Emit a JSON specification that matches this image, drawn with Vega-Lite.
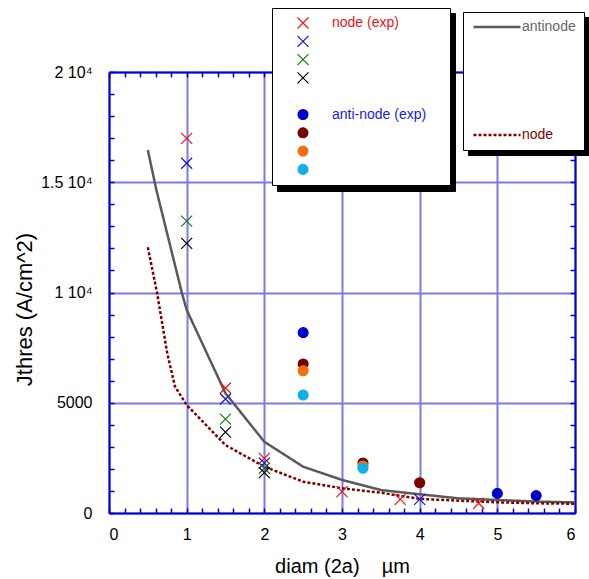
{
  "$schema": "https://vega.github.io/schema/vega-lite/v6.json",
  "width": 466,
  "height": 441,
  "autosize": {"type": "none"},
  "padding": {"left": 109, "top": 72, "right": 14, "bottom": 66},
  "background": "white",
  "config": {"font": "Liberation Sans", "view": {"stroke": null}},
  "datasets": {
    "curves": [
      {"diam": 0.5, "J": 16460, "curve": "antinode"},
      {"diam": 0.61, "J": 14650, "curve": "antinode"},
      {"diam": 0.94, "J": 9960, "curve": "antinode"},
      {"diam": 1.0, "J": 9210, "curve": "antinode"},
      {"diam": 1.5, "J": 5430, "curve": "antinode"},
      {"diam": 2.0, "J": 3230, "curve": "antinode"},
      {"diam": 2.5, "J": 2100, "curve": "antinode"},
      {"diam": 3.0, "J": 1500, "curve": "antinode"},
      {"diam": 3.5, "J": 1040, "curve": "antinode"},
      {"diam": 4.0, "J": 850, "curve": "antinode"},
      {"diam": 4.5, "J": 665, "curve": "antinode"},
      {"diam": 5.0, "J": 590, "curve": "antinode"},
      {"diam": 5.5, "J": 520, "curve": "antinode"},
      {"diam": 6.0, "J": 480, "curve": "antinode"},
      {"diam": 0.5, "J": 12050, "curve": "node"},
      {"diam": 0.62, "J": 9960, "curve": "node"},
      {"diam": 0.75, "J": 7240, "curve": "node"},
      {"diam": 0.85, "J": 5730, "curve": "node"},
      {"diam": 1.0, "J": 4900, "curve": "node"},
      {"diam": 1.5, "J": 3080, "curve": "node"},
      {"diam": 2.0, "J": 2100, "curve": "node"},
      {"diam": 2.5, "J": 1420, "curve": "node"},
      {"diam": 3.0, "J": 1120, "curve": "node"},
      {"diam": 3.5, "J": 920, "curve": "node"},
      {"diam": 4.0, "J": 640, "curve": "node"},
      {"diam": 4.5, "J": 560, "curve": "node"},
      {"diam": 5.0, "J": 485, "curve": "node"},
      {"diam": 5.5, "J": 440, "curve": "node"},
      {"diam": 6.0, "J": 420, "curve": "node"}
    ],
    "points": [
      {"diam": 1, "J": 16990, "series": "node (exp)"},
      {"diam": 1.5, "J": 5670, "series": "node (exp)"},
      {"diam": 2, "J": 2480, "series": "node (exp)"},
      {"diam": 3, "J": 970, "series": "node (exp)"},
      {"diam": 3.75, "J": 620, "series": "node (exp)"},
      {"diam": 4.76, "J": 440, "series": "node (exp)"},
      {"diam": 1, "J": 15860, "series": "n2"},
      {"diam": 1.5, "J": 5170, "series": "n2"},
      {"diam": 2, "J": 2260, "series": "n2"},
      {"diam": 4, "J": 620, "series": "n2"},
      {"diam": 1, "J": 13240, "series": "n3"},
      {"diam": 1.5, "J": 4260, "series": "n3"},
      {"diam": 2, "J": 2030, "series": "n3"},
      {"diam": 1, "J": 12230, "series": "n4"},
      {"diam": 1.5, "J": 3670, "series": "n4"},
      {"diam": 2, "J": 1830, "series": "n4"},
      {"diam": 2.5, "J": 8180, "series": "anti-node (exp)"},
      {"diam": 5.0, "J": 890, "series": "anti-node (exp)"},
      {"diam": 5.5, "J": 790, "series": "anti-node (exp)"},
      {"diam": 2.5, "J": 6760, "series": "a2"},
      {"diam": 3.27, "J": 2270, "series": "a2"},
      {"diam": 4.0, "J": 1370, "series": "a2"},
      {"diam": 2.5, "J": 6450, "series": "a3"},
      {"diam": 3.27, "J": 2130, "series": "a3"},
      {"diam": 2.5, "J": 5350, "series": "a4"},
      {"diam": 3.27, "J": 2030, "series": "a4"}
    ]
  },
  "layer": [
    {
      "data": {"name": "curves"},
      "mark": {"type": "line", "strokeCap": "butt"},
      "encoding": {
        "x": {
          "field": "diam", "type": "quantitative",
          "scale": {"domain": [0, 6], "nice": false, "zero": false},
          "axis": {
            "orient": "bottom",
            "values": [0,0.2,0.4,0.6,0.8,1,1.2,1.4,1.6,1.8,2,2.2,2.4,2.6,2.8,3,3.2,3.4,3.6,3.8,4,4.2,4.4,4.6,4.8,5,5.2,5.4,5.6,5.8,6],
            "labelExpr": "abs(datum.value - round(datum.value)) < 0.001 ? format(datum.value, 'd') : ''",
            "labelOverlap": false,
            "labelFontSize": 16,
            "labelColor": "black",
            "labelPadding": 18,
            "tickSize": -5,
            "tickWidth": 1.5,
            "tickColor": "#0000dd",
            "domainColor": "#0000dd",
            "domainWidth": 2,
            "grid": true,
            "gridColor": "#7b7bea",
            "gridWidth": 2,
            "gridOpacity": {"condition": {"test": "abs(datum.value - round(datum.value)) < 0.001", "value": 1}, "value": 0},
            "title": "diam (2a)\u00a0\u00a0\u00a0\u00a0µm",
            "titleFontSize": 20,
            "titleFontWeight": "normal",
            "titleColor": "black",
            "titlePadding": 14
          }
        },
        "y": {
          "field": "J", "type": "quantitative",
          "scale": {"domain": [0, 20000], "nice": false, "zero": true},
          "axis": {
            "orient": "left",
            "values": [0,1000,2000,3000,4000,5000,6000,7000,8000,9000,10000,11000,12000,13000,14000,15000,16000,17000,18000,19000,20000],
            "labelExpr": "datum.value === 20000 ? '2 10⁴' : datum.value === 15000 ? '1.5 10⁴' : datum.value === 10000 ? '1 10⁴' : datum.value === 5000 ? '5000' : datum.value === 0 ? '0' : ''",
            "labelOverlap": false,
            "labelFontSize": 16,
            "labelColor": "black",
            "labelPadding": 22,
            "tickSize": -5,
            "tickWidth": 1.5,
            "tickColor": "#0000dd",
            "domainColor": "#0000dd",
            "domainWidth": 2,
            "grid": true,
            "gridColor": "#7b7bea",
            "gridWidth": 2,
            "gridOpacity": {"condition": {"test": "datum.value % 5000 === 0", "value": 1}, "value": 0},
            "title": "Jthres (A/cm^2)",
            "titleFontSize": 22,
            "titleFontWeight": "normal",
            "titleColor": "black",
            "titlePadding": 4,
            "titleY": 237
          }
        },
        "color": {
          "field": "curve", "type": "nominal",
          "scale": {"domain": ["antinode", "node"], "range": ["#5a5a5a", "#800000"]},
          "legend": {
            "orient": "none", "legendX": 354, "legendY": -60, "zindex": 3,
            "title": null,
            "symbolType": "stroke", "symbolSize": 2209, "symbolStrokeWidth": 2.5,
            "clipHeight": 14,
            "padding": 8, "symbolOffset": 1, "labelOffset": 0, "rowPadding": 94,
            "labelFontSize": 14,
            "labelExpr": "datum.label + '\u00a0\u00a0\u00a0'",
            "fillColor": "white", "strokeColor": "black",
            "encode": {"labels": {"update": {"fill": {"signal": "datum.value === 'node' ? '#800000' : '#666666'"}}}}
          }
        },
        "strokeDash": {
          "field": "curve", "type": "nominal",
          "scale": {"domain": ["antinode", "node"], "range": [[1, 0], [3, 2]]}
        },
        "strokeWidth": {
          "field": "curve", "type": "ordinal",
          "scale": {"domain": ["node", "antinode"], "range": [2.5, 2.5]},
          "legend": {
            "orient": "none", "legendX": 359, "legendY": -55, "zindex": 1,
            "title": null,
            "symbolType": "stroke", "symbolSize": 2209,
            "clipHeight": 14,
            "padding": 8, "symbolOffset": 1, "labelOffset": 65.7, "rowPadding": 94,
            "labelFontSize": 14,
            "labelExpr": "''",
            "labelColor": "black", "symbolStrokeColor": "black",
            "fillColor": "black", "strokeColor": "black"
          }
        }
      }
    },
    {
      "data": {"name": "points"},
      "mark": {"type": "point", "size": 121, "strokeWidth": 1.2},
      "encoding": {
        "x": {
          "field": "diam", "type": "quantitative",
          "axis": {
            "orient": "top",
            "values": [0,0.2,0.4,0.6,0.8,1,1.2,1.4,1.6,1.8,2,2.2,2.4,2.6,2.8,3,3.2,3.4,3.6,3.8,4,4.2,4.4,4.6,4.8,5,5.2,5.4,5.6,5.8,6],
            "labels": false, "grid": false, "title": null,
            "tickSize": -5, "tickWidth": 1.5, "tickColor": "#0000dd",
            "domainColor": "#0000dd", "domainWidth": 2
          }
        },
        "y": {
          "field": "J", "type": "quantitative",
          "axis": {
            "orient": "right",
            "values": [0,1000,2000,3000,4000,5000,6000,7000,8000,9000,10000,11000,12000,13000,14000,15000,16000,17000,18000,19000,20000],
            "labels": false, "grid": false, "title": null,
            "tickSize": -5, "tickWidth": 1.5, "tickColor": "#0000dd",
            "domainColor": "#0000dd", "domainWidth": 2
          }
        },
        "shape": {
          "field": "series", "type": "nominal",
          "scale": {
            "domain": ["node (exp)", "n2", "n3", "n4", "\u2800\u2800\u2800\u2800\u2800\u2800\u2800\u2800\u2800\u2800\u2800", "anti-node (exp)", "a2", "a3", "a4"],
            "range": ["M-1,-1L1,1M-1,1L1,-1", "M-1,-1L1,1M-1,1L1,-1", "M-1,-1L1,1M-1,1L1,-1", "M-1,-1L1,1M-1,1L1,-1", "circle", "M0.9,0A0.9,0.9 0 1,1 -0.9,0A0.9,0.9 0 1,1 0.9,0Z", "M0.9,0A0.9,0.9 0 1,1 -0.9,0A0.9,0.9 0 1,1 0.9,0Z", "M0.9,0A0.9,0.9 0 1,1 -0.9,0A0.9,0.9 0 1,1 0.9,0Z", "M0.9,0A0.9,0.9 0 1,1 -0.9,0A0.9,0.9 0 1,1 0.9,0Z"]
          },
          "legend": {
            "orient": "none", "legendX": 163, "legendY": -64, "zindex": 4,
            "title": null,
            "symbolSize": 121, "symbolStrokeWidth": 1.2, "symbolOpacity": 1,
            "padding": 8, "symbolOffset": 16, "labelOffset": 22, "rowPadding": 2.3,
            "labelFontSize": 14,
            "labelColor": {"expr": "datum.value === 'node (exp)' ? '#ee1111' : datum.value === 'anti-node (exp)' ? '#1a1ae0' : 'transparent'"},
            "fillColor": "white", "strokeColor": "black"
          }
        },
        "fill": {
          "field": "series", "type": "nominal",
          "scale": {
            "domain": ["node (exp)", "n2", "n3", "n4", "\u2800\u2800\u2800\u2800\u2800\u2800\u2800\u2800\u2800\u2800\u2800", "anti-node (exp)", "a2", "a3", "a4"],
            "range": ["#ee1111", "#1111dd", "#187818", "#000000", "transparent", "#0000cc", "#7a0000", "#f07010", "#10b0e8"]
          },
          "legend": {
            "orient": "none", "legendX": 163, "legendY": -64, "zindex": 4,
            "title": null,
            "symbolSize": 121, "symbolStrokeWidth": 1.2, "symbolOpacity": 1,
            "padding": 8, "symbolOffset": 16, "labelOffset": 22, "rowPadding": 2.3,
            "labelFontSize": 14,
            "labelColor": {"expr": "datum.value === 'node (exp)' ? '#ee1111' : datum.value === 'anti-node (exp)' ? '#1a1ae0' : 'transparent'"},
            "fillColor": "white", "strokeColor": "black"
          }
        },
        "stroke": {
          "field": "series", "type": "nominal",
          "scale": {
            "domain": ["node (exp)", "n2", "n3", "n4", "\u2800\u2800\u2800\u2800\u2800\u2800\u2800\u2800\u2800\u2800\u2800", "anti-node (exp)", "a2", "a3", "a4"],
            "range": ["#ee1111", "#1111dd", "#187818", "#000000", "transparent", "#0000cc", "#7a0000", "#f07010", "#10b0e8"]
          },
          "legend": {
            "orient": "none", "legendX": 163, "legendY": -64, "zindex": 4,
            "title": null,
            "symbolSize": 121, "symbolStrokeWidth": 1.2, "symbolOpacity": 1,
            "padding": 8, "symbolOffset": 16, "labelOffset": 22, "rowPadding": 2.3,
            "labelFontSize": 14,
            "labelColor": {"expr": "datum.value === 'node (exp)' ? '#ee1111' : datum.value === 'anti-node (exp)' ? '#1a1ae0' : 'transparent'"},
            "fillColor": "white", "strokeColor": "black"
          }
        },
        "opacity": {
          "field": "series", "type": "ordinal",
          "scale": {
            "domain": ["a4", "a3", "a2", "anti-node (exp)", "gap", "n4", "n3", "n2", "node (exp)"],
            "range": [1, 1, 1, 1, 1, 1, 1, 1, 1]
          },
          "legend": {
            "orient": "none", "legendX": 168, "legendY": -59, "zindex": 1,
            "title": null,
            "symbolType": "square",
            "symbolSize": 219, "symbolStrokeWidth": 1.2,
            "padding": 8, "symbolOffset": 16, "labelOffset": 130, "rowPadding": -2.2,
            "labelFontSize": 14,
            "labelExpr": "''",
            "labelColor": "black", "symbolFillColor": "black", "symbolStrokeColor": "black",
            "fillColor": "black", "strokeColor": "black"
          }
        }
      }
    }
  ],
  "resolve": {"axis": {"x": "independent", "y": "independent"}}
}
